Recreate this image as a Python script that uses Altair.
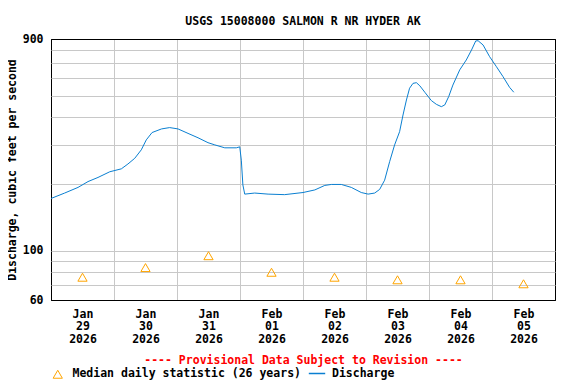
import altair as alt
import pandas as pd

# ---- data -------------------------------------------------------------
BASE_MS = 1769644800000          # 2026-01-29 00:00 UTC
HOUR_MS = 3600000
DAY_MS = 86400000
N_DAYS = 8

discharge_hours = [0, 5.2, 10.3, 14.1, 17.9, 22.4, 26.8, 29.3, 31.9, 34.4, 36.3, 38.5,
                   42.1, 45.2, 48.4, 52.2, 56.0, 59.8, 62.4, 66.2, 70.6, 71.9, 72.5, 73.1,
                   73.8, 77.6, 82.7, 89.0, 96.0, 100.5, 104.3, 106.8, 110.6, 114.4, 118.2, 120.8,
                   123.3, 125.2, 127.1, 129.0, 130.9, 132.8, 134.1, 135.4, 136.6, 137.9, 139.2, 140.5,
                   142.4, 144.9, 146.8, 148.7, 150.0, 151.5, 153.1, 155.7, 158.2, 160.2, 161.8, 162.7,
                   164.6, 167.1, 169.7, 172.2, 174.7, 176.3]
discharge_cfs = [172, 182, 193, 205, 214, 227, 234, 246, 261, 285, 316, 341,
                 354, 359, 354, 338, 323, 307, 300, 291, 291, 294, 256, 198,
                 180, 182, 180, 179, 183, 188, 197, 199, 199, 193, 183, 180,
                 182, 189, 208, 252, 300, 344, 409, 478, 540, 568, 572, 554,
                 518, 475, 457, 446, 454, 495, 558, 653, 724, 803, 882, 884,
                 846, 749, 675, 609, 545, 518]

median_cfs = [76, 84, 95, 80, 76, 74, 74, 71]

y_grid_values = [60, 70, 80, 90, 100, 200, 300, 400, 500, 600, 700, 800, 900]
y_label_values = [60, 100, 900]

TITLE = "USGS 15008000 SALMON R NR HYDER AK"
Y_TITLE = "Discharge, cubic feet per second"
NOTE = "---- Provisional Data Subject to Revision ----"
MEDIAN_LABEL = "Median daily statistic (26 years)"
DISCHARGE_LABEL = "Discharge"

# ---- tables --------------------------------------------------------------
q_df = pd.DataFrame({
    "t": [BASE_MS + h * HOUR_MS for h in discharge_hours],
    "cfs": discharge_cfs,
    "series": DISCHARGE_LABEL,
})
m_df = pd.DataFrame({
    "t": [BASE_MS + (i + 0.5) * DAY_MS for i in range(N_DAYS)],
    "cfs": median_cfs,
    "stat": MEDIAN_LABEL,
})

END_MS = BASE_MS + N_DAYS * DAY_MS
x_values = [BASE_MS + i * DAY_MS for i in range(N_DAYS + 1)]

FONT = "DejaVu Sans Mono"
FS = 11.5
GRID = "#c8c8c8"
BLUE = "#0a7fd1"
ORANGE = "#ffa500"

x_enc = alt.X(
    "t:T",
    scale=alt.Scale(type="utc", domain=[BASE_MS, END_MS]),
    axis=alt.Axis(
        values=x_values,
        grid=True,
        gridColor={"condition": {"test": f"time(datum.value) <= {BASE_MS} || time(datum.value) >= {END_MS}",
                                 "value": "black"}, "value": GRID},
        gridWidth=1,
        ticks=False,
        domain=False,
        labelOffset=31.5,
        labelExpr=(f"time(datum.value) >= {END_MS} ? '' : "
                   "[utcFormat(datum.value, '%b'), utcFormat(datum.value, '%d'), utcFormat(datum.value, '%Y')]"),
        labelFont=FONT, labelFontSize=FS, labelFontWeight="bold", labelColor="black",
        labelPadding=8, labelLineHeight=12.7, labelFlush=False, labelOverlap=False,
        labelAlign="center", labelBaseline="top",
        title=NOTE, titleColor="#ff0000", titleFont=FONT, titleFontSize=FS,
        titleFontWeight="bold", titlePadding=10,
    ),
)

y_enc = alt.Y(
    "cfs:Q",
    scale=alt.Scale(type="log", domain=[60, 900], nice=False),
    axis=alt.Axis(
        values=y_grid_values,
        grid=True,
        gridColor={"condition": {"test": "datum.value <= 60 || datum.value >= 900", "value": "black"},
                   "value": GRID},
        gridWidth=1,
        ticks=False,
        domain=False,
        labelExpr=f"indexof({y_label_values}, datum.value) >= 0 ? '' + datum.value : ''",
        labelFont=FONT, labelFontSize=FS, labelFontWeight="bold", labelColor="black",
        labelPadding=8, labelOverlap=False, labelFlush=False,
        title=Y_TITLE, titleFont=FONT, titleFontSize=FS, titleFontWeight="bold",
        titleColor="black", titlePadding=5,
    ),
)

line = alt.Chart(q_df).mark_line(strokeWidth=1, interpolate="linear").encode(
    x=x_enc,
    y=y_enc,
    color=alt.Color(
        "series:N",
        scale=alt.Scale(range=[BLUE]),
        legend=alt.Legend(
            orient="none", legendX=257, legendY=325.5, title=None, padding=0,
            symbolType="stroke", symbolSize=269, symbolStrokeWidth=1.5,
            labelOffset=6, labelFont=FONT, labelFontSize=FS, labelFontWeight="bold",
            labelColor="black", labelLimit=0,
        ),
    ),
)

points = alt.Chart(m_df).mark_point(
    filled=False, color=ORANGE, size=85, strokeWidth=1, opacity=1
).encode(
    x="t:T",
    y="cfs:Q",
    shape=alt.Shape(
        "stat:N",
        scale=alt.Scale(range=["triangle-up"]),
        legend=alt.Legend(
            orient="none", legendX=1, legendY=329.5, title=None, padding=0,
            symbolSize=85, symbolStrokeColor=ORANGE, symbolFillColor="transparent",
            symbolStrokeWidth=1, symbolOpacity=1,
            labelOffset=9, labelFont=FONT, labelFontSize=FS, labelFontWeight="bold",
            labelColor="black", labelLimit=0,
        ),
    ),
)

chart = alt.layer(line, points).properties(
    width=504,
    height=261,
    title=alt.TitleParams(
        text=TITLE, font=FONT, fontSize=FS, fontWeight="bold", color="black",
        anchor="middle", offset=6,
    ),
    autosize=alt.AutoSizeParams(type="none"),
    padding={"left": 43, "top": 31, "right": 13, "bottom": 80},
    background="white",
).configure_view(stroke="black", strokeWidth=1)

chart.save("out.html", embed_options={"renderer": "svg", "actions": False})
